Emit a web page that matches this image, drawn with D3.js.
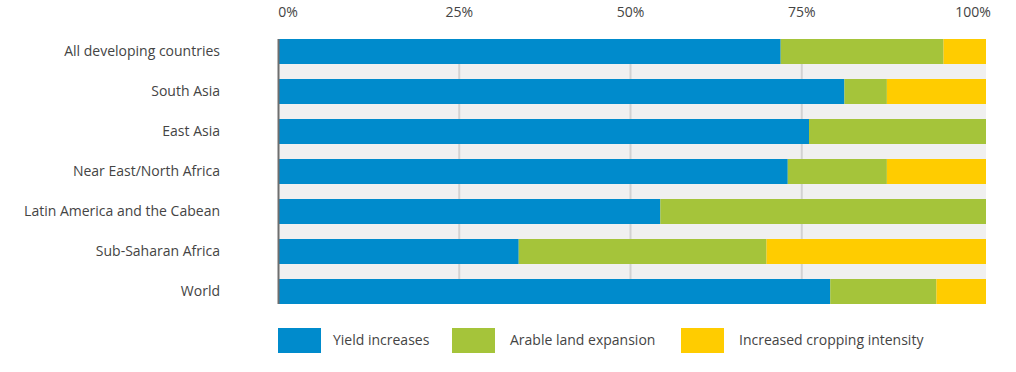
<!DOCTYPE html>
<meta charset="utf-8">
<head>
  <title>Sources of growth in crop production</title>
</head>

<style>
body { margin: 0; background: #fff; }
text {
  font-family: "Open Sans", "Noto Sans", sans-serif;
  fill: #444;
  font-size: 14px;
}
</style>

<body>
  <svg width="1016" height="372"></svg>

  <script src="https://cdnjs.cloudflare.com/ajax/libs/d3/7.8.5/d3.min.js"></script>
  <script>

var regions = [
  "All developing countries",
  "South Asia",
  "East Asia",
  "Near East/North Africa",
  "Latin America and the Cabean",
  "Sub-Saharan Africa",
  "World"
];

var seriesNames = ["Yield increases", "Arable land expansion", "Increased cropping intensity"];
var colors = ["#008bcc", "#a5c43a", "#ffcc00"];

// percent shares per region
var yieldShare     = [71, 80, 75, 72, 54, 34, 78];
var landShare      = [23,  6, 25, 14, 46, 35, 15];
var intensityShare = [ 6, 14,  0, 14,  0, 31,  7];

var tickValues = [0, 25, 50, 75, 100];

var rows = regions.map(function(name, i) {
  return { name: name, y: yieldShare[i], l: landShare[i], c: intensityShare[i] };
});

var svg = d3.select('svg');

var x = d3.scaleLinear().domain([0, 100]).range([278, 986]);
// the printed grid and labels sit slightly inside the bar span
var xTick = d3.scaleLinear().domain([0, 100]).range([288, 973]);

var y = d3.scaleBand()
  .domain(regions)
  .range([39, 304])
  .paddingInner(15 / 40)
  .paddingOuter(0);

var plotTop = y(regions[0]);
var plotBottom = y(regions[regions.length - 1]) + y.bandwidth();

// gray band behind the bars
svg.append('rect')
  .attr('x', x(0))
  .attr('y', plotTop)
  .attr('width', x(100) - x(0))
  .attr('height', plotBottom - plotTop)
  .attr('fill', '#f0f0f0');

// grid lines
svg.append('g')
  .selectAll('line')
  .data(tickValues.slice(1, 4))
  .enter()
  .append('line')
  .attr('x1', function(d) { return xTick(d); })
  .attr('x2', function(d) { return xTick(d); })
  .attr('y1', plotTop)
  .attr('y2', plotBottom)
  .attr('stroke', '#d2d2d2')
  .attr('stroke-width', 2);

// top tick labels
svg.append('g')
  .selectAll('text')
  .data(tickValues)
  .enter()
  .append('text')
  .attr('x', function(d) { return xTick(d); })
  .attr('y', 17)
  .attr('text-anchor', 'middle')
  .text(function(d) { return d + '%'; });

var stack = d3.stack().keys(['y', 'l', 'c']);
var layers = stack(rows);

svg.append('g')
  .selectAll('g')
  .data(layers)
  .enter()
  .append('g')
  .attr('fill', function(d, i) { return colors[i]; })
  .selectAll('rect')
  .data(function(d) { return d; })
  .enter()
  .append('rect')
  .attr('x', function(d) { return x(d[0]); })
  .attr('y', function(d) { return y(d.data.name); })
  .attr('width', function(d) { return x(d[1]) - x(d[0]); })
  .attr('height', y.bandwidth());

// left axis line
svg.append('line')
  .attr('x1', 278.5)
  .attr('x2', 278.5)
  .attr('y1', plotTop)
  .attr('y2', plotBottom)
  .attr('stroke', '#6e6e6e')
  .attr('stroke-width', 2);

// category labels
svg.append('g')
  .selectAll('text')
  .data(regions)
  .enter()
  .append('text')
  .attr('x', 220)
  .attr('y', function(d) { return y(d) + y.bandwidth() / 2; })
  .attr('dy', '0.35em')
  .attr('text-anchor', 'end')
  .text(function(d) { return d; });

// legend
var legendX = [278, 452, 681];
var legend = svg.append('g')
  .selectAll('g')
  .data(seriesNames)
  .enter()
  .append('g')
  .attr('transform', function(d, i) { return 'translate(' + [legendX[i], 328] + ')'; });

legend.append('rect')
  .attr('width', 43)
  .attr('height', 25)
  .attr('fill', function(d, i) { return colors[i]; });

legend.append('text')
  .attr('x', function(d, i) { return i == 0 ? 55 : 58; })
  .attr('y', 12.5)
  .attr('dy', '0.35em')
  .text(function(d) { return d; });

  </script>
</body>
</html>
